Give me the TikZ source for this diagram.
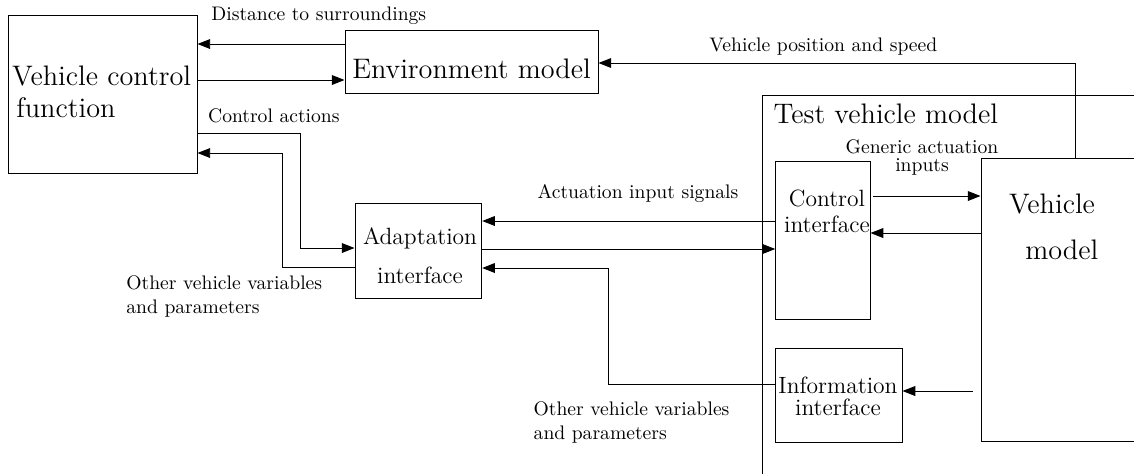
\documentclass[tikz,border=0pt]{standalone}
\usetikzlibrary{arrows.meta,fit,calc}
\begin{document}
\begin{tikzpicture}[x=0.51pt,y=-0.51pt,
  box/.style={draw, line width=0.5pt, inner sep=0pt},
  arr/.style={-{Triangle[length=6.5pt,width=5pt]}, line width=0.5pt},
  lbl/.style={font=\normalsize, inner sep=0pt, align=left},
  big/.style={inner sep=0pt, align=left},
  mid/.style={inner sep=0pt, align=center}]
\useasboundingbox (0,0) rectangle (1134,473);

% frames running off the right/bottom edge
\begin{scope}
  \clip (0,0) rectangle (1134,473);
  \node[box, fit={(762,95) (1200,520)}] (tvm) {};
  \node[box, fit={(981,158) (1200,441.7)}] (vm) {};
\end{scope}

% blocks
\node[box, fit={(8,15) (197,173)}] (vcf) {};
\node[box, fit={(345,30) (598,93)}] (env) {};
\node[box, fit={(355,203) (481.7,298)}] (ada) {};
\node[box, fit={(775.7,161.7) (870,319)}] (ci) {};
\node[box, fit={(775.7,348) (902,442.7)}] (info) {};

% block titles (base anchor = baseline of the last line)
\node[big, font=\fontsize{14.4}{16.3}\selectfont, anchor=base west] (vcft) at (11.7,117)
  {Vehicle control\\\hspace*{2.2pt}function};
\node[big, font=\Large, anchor=base] (envt) at (471.5,78) {Environment model};
\node[big, font=\Large, anchor=base west] (tvmt) at (773.3,123.3) {Test vehicle model};
\node[mid, font=\fontsize{14.4}{23}\selectfont, anchor=base] (vmt) at (1052,259)
  {Vehicle\\\hspace*{10pt}model};
\node[mid, font=\fontsize{12}{20}\selectfont, anchor=base] (adat) at (420,283.3)
  {Adaptation\\interface};
\node[mid, font=\fontsize{12}{13.6}\selectfont, anchor=base] (cit) at (827,232.7)
  {Control\\interface};
\node[mid, font=\fontsize{12}{11.4}\selectfont, anchor=base] (infot) at (838,415.7)
  {Information\\interface};

% connector labels
\node[lbl, anchor=base west] (l1) at (211,20) {Distance to surroundings};
\node[lbl, anchor=base west] (l2) at (709,51.7) {Vehicle position and speed};
\node[lbl, anchor=base west] (l3) at (207.7,122.7) {Control actions};
\node[mid, font=\fontsize{10}{9.4}\selectfont, anchor=base] (l4) at (922,171.7)
  {Generic actuation\\inputs};
\node[lbl, anchor=base west] (l5) at (537.3,198.3) {Actuation input signals};
\node[lbl, anchor=base west] (l6) at (126,313.3) {Other vehicle variables\\and parameters};
\node[lbl, anchor=base west] (l7) at (533.3,439.3) {Other vehicle variables\\and parameters};

% free ends of connectors leaving the vehicle model
\coordinate (vmtop) at (1075,158);
\coordinate (vmtap) at (972.7,391);

% connectors
\draw[arr] (env.west |- 0,44) -- (vcf.east |- 0,44);
\draw[arr] (vcf.east |- 0,80) -- (env.west |- 0,80);
\draw[arr] (vmtop) |- (env.east |- 0,63);
\draw[arr] (vcf.east |- 0,133) -- (300,133) -- (300,248) -- (ada.west |- 0,248);
\draw[arr] (ada.west |- 0,267) -- (282,267) -- (282,153) -- (vcf.east |- 0,153);
\draw[arr] (ci.west |- 0,221) -- (ada.east |- 0,221);
\draw[arr] (ada.east |- 0,249) -- (ci.west |- 0,249);
\draw[arr] (info.west |- 0,384) -- (608,384) -- (608,268) -- (ada.east |- 0,268);
\draw[arr] (873,196) -- (vm.west |- 0,196);
\draw[arr] (vm.west |- 0,233) -- (ci.east |- 0,233);
\draw[arr] (vmtap) -- (info.east |- vmtap);
\end{tikzpicture}
\end{document}
